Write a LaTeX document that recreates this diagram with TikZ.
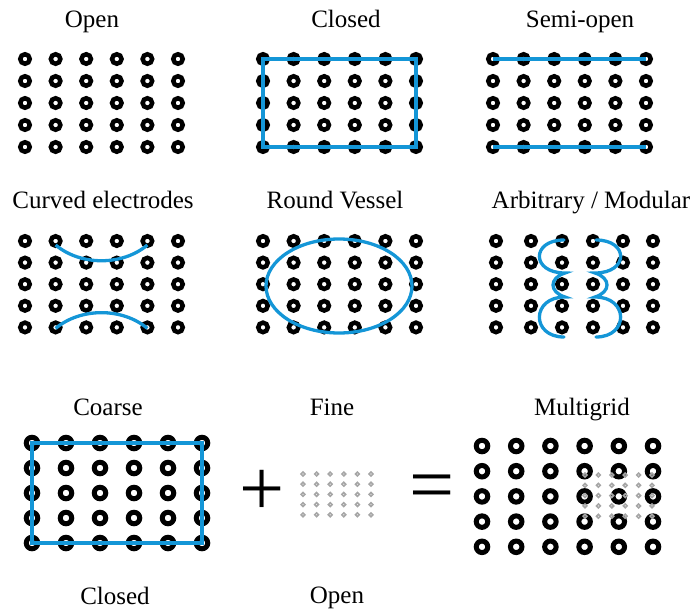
\documentclass[tikz,border=0pt]{standalone}
\usepackage{fontspec}
\setmainfont{Liberation Serif}
\newfontfamily\titlefont{Liberation Serif}
\definecolor{electrode}{RGB}{20,150,215}

\begin{document}
\begin{tikzpicture}[
    x=1pt, y=-1pt,
    title/.style={anchor=base, inner sep=0pt, font=\titlefont\fontsize{25}{30}\selectfont},
    ring/.style={circle, draw=black, line width=4.5pt, minimum size=9.5pt, inner sep=0pt},
    bigring/.style={ring, line width=5pt, minimum size=11.5pt},
    finering/.style={circle, draw=black!35, line width=1.6pt, minimum size=3.8pt, inner sep=0pt},
    wall/.style={draw=electrode, line width=3.3pt},
    op/.style={inner sep=0pt, font=\titlefont\fontsize{80}{80}\selectfont}
]
\useasboundingbox (0,0) rectangle (695,610);

% Open
\node[title] (t-open) at (92,28) {Open};
\foreach \i in {1,...,6}
  \foreach \j in {1,...,5}
    \node[ring] (open-\i-\j) at ({25+30.6*(\i-1)},{59+22*(\j-1)}) {};

% Closed
\node[title] (t-closed) at (346,28) {Closed};
\foreach \i in {1,...,6}
  \foreach \j in {1,...,5}
    \node[ring] (closed-\i-\j) at ({263+30.6*(\i-1)},{59+22*(\j-1)}) {};
\draw[wall] (closed-1-1.center) rectangle (closed-6-5.center);

% Semi-open
\node[title] (t-semi) at (580,28) {Semi-open};
\foreach \i in {1,...,6}
  \foreach \j in {1,...,5}
    \node[ring] (semi-\i-\j) at ({493+30.6*(\i-1)},{59+22*(\j-1)}) {};
\draw[wall] (semi-1-1.center) -- (semi-6-1.center);
\draw[wall] (semi-1-5.center) -- (semi-6-5.center);

% Curved electrodes
\node[title] (t-curved) at (103,208) {Curved electrodes};
\foreach \i in {1,...,6}
  \foreach \j in {1,...,5}
    \node[ring] (curved-\i-\j) at ({25+30.6*(\i-1)},{241+21.6*(\j-1)}) {};
\draw[wall] ([yshift=-4pt]curved-2-1.center) .. controls +(25,21) and +(-25,21) .. ([yshift=-4pt]curved-5-1.center);
\draw[wall] ([yshift=-1pt]curved-2-5.center) .. controls +(25,-21) and +(-25,-21) .. ([yshift=-1pt]curved-5-5.center);

% Round Vessel
\node[title] (t-round) at (335,208) {Round Vessel};
\foreach \i in {1,...,6}
  \foreach \j in {1,...,5}
    \node[ring] (round-\i-\j) at ({263+30.6*(\i-1)},{241+21.6*(\j-1)}) {};
\coordinate (vessel) at (339,286);
\draw[wall] (vessel) ellipse [x radius=73, y radius=47];

% Arbitrary / Modular
\node[title] (t-arb) at (591,208) {Arbitrary / Modular};
\foreach \x [count=\i] in {496,531,562,593,623,653}
  \foreach \j in {1,...,5}
    \node[ring] (arb-\i-\j) at (\x,{241+21.6*(\j-1)}) {};
\draw[wall, line cap=round] (564,240) .. controls (531,240) and (531,273) .. (565,273)
    .. controls (549,278) and (549,292) .. (565,297)
    .. controls (531,297) and (531,337) .. (564,337);
\draw[wall, line cap=round] (596,240) .. controls (629,240) and (629,273) .. (595,273)
    .. controls (611,278) and (611,292) .. (595,297)
    .. controls (629,297) and (629,337) .. (596,337);

% Coarse
\node[title] (t-coarse) at (108,415) {Coarse};
\node[title] (t-coarse-b) at (115,604) {Closed};
\foreach \i in {1,...,6}
  \foreach \j in {1,...,5}
    \node[bigring] (coarse-\i-\j) at ({32+34*(\i-1)},{443+25*(\j-1)}) {};
\draw[wall, line width=4pt] (coarse-1-1.center) rectangle (coarse-6-5.center);

\node[op] (plus) at (262,493) {+};

% Fine
\node[title] (t-fine) at (332,415) {Fine};
\node[title] (t-fine-b) at (337,603) {Open};
\foreach \i in {1,...,6}
  \foreach \j in {1,...,5}
    \node[finering] (fine-\i-\j) at ({303+13.6*(\i-1)},{474+10.2*(\j-1)}) {};

\node[op] (equals) at (432,493) {=};

% Multigrid
\node[title] (t-multi) at (582,415) {Multigrid};
\foreach \i in {1,...,6}
  \foreach \j in {1,...,5}
    \node[bigring] (multi-\i-\j) at ({482+34.2*(\i-1)},{446+25.2*(\j-1)}) {};
\foreach \i in {1,...,6}
  \foreach \j in {1,...,5}
    \node[finering] (mfine-\i-\j) at ({585+13.4*(\i-1)},{475+10.3*(\j-1)}) {};

\end{tikzpicture}
\end{document}
